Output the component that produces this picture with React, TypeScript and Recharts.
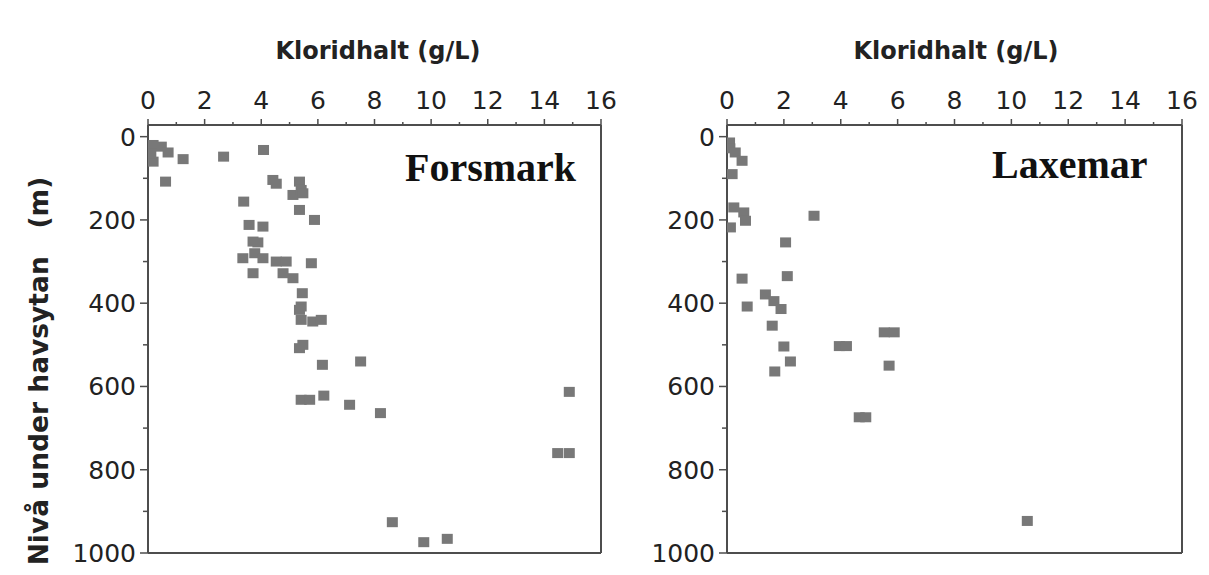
import React from "react";
import { ScatterChart, Scatter, XAxis, YAxis, ReferenceLine } from "recharts";

const xTicks = [0, 1, 2, 3, 4, 5, 6, 7, 8, 9, 10, 11, 12, 13, 14, 15, 16];
const yTicks = [0, 100, 200, 300, 400, 500, 600, 700, 800, 900, 1000];

const forsmarkChloride = [
  0.18, 0.47, 0.71, 0.18, 0.1, 1.24, 2.67, 4.08, 0.62, 4.41, 4.53, 5.35, 5.12, 5.41, 5.47,
  5.35, 5.88, 3.38, 3.57, 4.06, 3.71, 3.88, 3.35, 3.77, 4.06, 3.71, 4.53, 4.88, 4.77, 5.12,
  5.77, 5.45, 5.41, 5.35, 5.41, 5.82, 6.12, 5.47, 5.35, 6.16, 7.51, 5.41, 5.71, 6.21, 7.12,
  8.21, 8.63, 9.74, 10.57, 14.88, 14.47, 14.88,
];
const forsmarkDepth = [
  20, 24, 38, 60, 40, 54, 48, 32, 108, 104, 113, 108, 140, 128, 136,
  176, 200, 156, 212, 216, 252, 254, 292, 280, 292, 328, 300, 300, 328, 340,
  304, 376, 408, 416, 440, 444, 440, 500, 508, 548, 540, 632, 632, 622, 644,
  664, 926, 974, 966, 613, 760, 760,
];

const laxemarChloride = [
  0.09, 0.1, 0.29, 0.53, 0.18, 0.24, 0.59, 0.65, 0.12, 3.06, 2.06, 2.12, 0.53, 1.35,
  1.65, 0.71, 1.9, 1.59, 2.0, 2.23, 1.68, 3.95, 4.2, 5.53, 5.88, 5.7, 4.65, 4.88, 10.56,
];
const laxemarDepth = [
  14, 28, 38, 58, 90, 170, 182, 202, 218, 190, 254, 335, 341, 379,
  395, 408, 414, 454, 504, 540, 564, 503, 503, 470, 470, 550, 674, 674, 923,
];

const zip = (xs: number[], ys: number[]) => xs.map((x, i) => ({ cl: x, depth: ys[i] }));
const forsmarkData = zip(forsmarkChloride, forsmarkDepth);
const laxemarData = zip(laxemarChloride, laxemarDepth);

const AXIS = "#4d4d4d";
const MARK = "#787878";
const SANS = "'DejaVu Sans', Arial, sans-serif";

const Square = (props: any) => {
  const { cx, cy } = props;
  if (cx == null || cy == null) return null;
  return <rect x={cx - 5.5} y={cy - 5} width={11} height={10} fill={MARK} />;
};

const XTick = (props: any) => {
  const { x, y, payload } = props;
  const v = payload.value as number;
  const major = v % 2 === 0;
  return (
    <g>
      <line x1={x} x2={x} y1={y} y2={y - (major ? 6 : 3)} stroke={AXIS} strokeWidth={1.5} />
      {major && (
        <text x={x} y={y - 25} textAnchor="middle" dy="0.36em" fontFamily={SANS} fontSize={25} fill="#222">
          {v}
        </text>
      )}
    </g>
  );
};

const YTick = (props: any) => {
  const { x, y, payload } = props;
  const v = payload.value as number;
  const major = v % 200 === 0;
  return (
    <g>
      <line x1={x} x2={x - (major ? 8 : 5)} y1={y} y2={y} stroke={AXIS} strokeWidth={1.5} />
      {major && (
        <text x={x - 12} y={y} textAnchor="end" dy="0.36em" fontFamily={SANS} fontSize={25} fill="#222">
          {v}
        </text>
      )}
    </g>
  );
};

type PanelProps = { data: { cl: number; depth: number }[]; width: number; margin: any };

const Panel = ({ data, width, margin }: PanelProps) => (
  <ScatterChart width={width} height={575} margin={margin}>
    <XAxis
      type="number"
      dataKey="cl"
      orientation="top"
      domain={[0, 16]}
      ticks={xTicks}
      interval={0}
      allowDataOverflow
      height={40}
      tickSize={0}
      tickMargin={0}
      tickLine={false}
      tick={<XTick />}
      axisLine={{ stroke: AXIS, strokeWidth: 2 }}
    />
    <YAxis
      type="number"
      dataKey="depth"
      domain={[-28, 1000]}
      reversed
      ticks={yTicks}
      interval={0}
      allowDataOverflow
      width={60}
      tickSize={0}
      tickMargin={0}
      tickLine={false}
      tick={<YTick />}
      axisLine={{ stroke: AXIS, strokeWidth: 2 }}
    />
    <ReferenceLine x={16} stroke={AXIS} strokeWidth={2} ifOverflow="visible" />
    <ReferenceLine y={1000} stroke={AXIS} strokeWidth={2} ifOverflow="visible" />
    <Scatter data={data} shape={<Square />} isAnimationActive={false} />
  </ScatterChart>
);

export default function App() {
  return (
    <div style={{ position: "absolute", left: 0, top: 0, width: 1209, height: 575, background: "#fff" }}>
      <div style={{ position: "absolute", left: 0, top: 0 }}>
        <Panel data={forsmarkData} width={620} margin={{ top: 85, left: 88, right: 19, bottom: 22 }} />
      </div>
      <div style={{ position: "absolute", left: 620, top: 0 }}>
        <Panel data={laxemarData} width={589} margin={{ top: 85, left: 47, right: 27, bottom: 22 }} />
      </div>
      <svg width={1209} height={575} style={{ position: "absolute", left: 0, top: 0, pointerEvents: "none" }}>
        <text x={378} y={50} textAnchor="middle" dy="0.36em" fontFamily={SANS} fontWeight="bold" fontSize={24} fill="#222">
          Kloridhalt (g/L)
        </text>
        <text x={956} y={50} textAnchor="middle" dy="0.36em" fontFamily={SANS} fontWeight="bold" fontSize={24} fill="#222">
          Kloridhalt (g/L)
        </text>
        <text x={405} y={181} fontFamily="'Liberation Serif', 'Times New Roman', serif" fontWeight="bold" fontSize={40} fill="#111">
          Forsmark
        </text>
        <text x={992} y={178} fontFamily="'Liberation Serif', 'Times New Roman', serif" fontWeight="bold" fontSize={40} fill="#111">
          Laxemar
        </text>
        <text
          transform="translate(38,371) rotate(-90)"
          textAnchor="middle"
          dy="0.36em"
          fontFamily={SANS}
          fontWeight="bold"
          fontSize={26.5}
          fill="#222"
          style={{ whiteSpace: "pre" }}
        >
          {"Nivå under havsytan   (m)"}
        </text>
      </svg>
    </div>
  );
}
